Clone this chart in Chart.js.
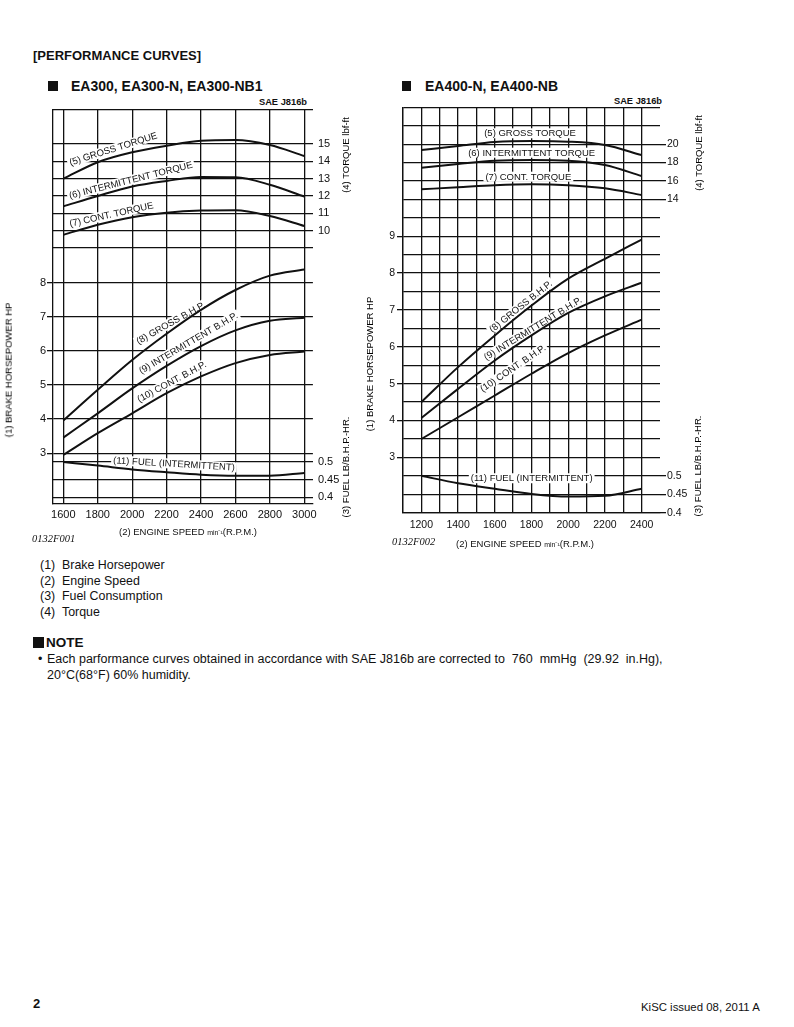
<!DOCTYPE html>
<html>
<head>
<meta charset="utf-8">
<script src="https://cdn.jsdelivr.net/npm/chart.js@4.4.1/dist/chart.umd.min.js"></script>
<style>
body { margin: 0; background: #fff; }
#page { position: relative; width: 794px; height: 1027px; overflow: hidden; font-family: "Liberation Sans", Arial, sans-serif; color: #111; }
.t { position: absolute; white-space: nowrap; line-height: 1; }
.ct { position: absolute; white-space: nowrap; line-height: 1; transform: translate(-50%, -50%); }
.vt { position: absolute; white-space: nowrap; line-height: 1; writing-mode: vertical-rl; transform: translate(-50%, -50%) rotate(180deg); color: #000; }
.sq { position: absolute; background: #111; }
.b { font-weight: bold; }
.code { font-family: "Liberation Serif", "Times New Roman", serif; font-style: italic; font-size: 10.5px; }
canvas { position: absolute; }
</style>
</head>
<body>
<div id="page">
  <div class="t b" style="left:33px;top:49px;font-size:13px;">[PERFORMANCE CURVES]</div>

  <div class="sq" style="left:48px;top:81px;width:10px;height:10px;"></div>
  <div class="t b" style="left:71px;top:79px;font-size:14px;">EA300, EA300-N, EA300-NB1</div>
  <div class="t b" style="right:487px;top:98px;font-size:9.3px;">SAE J816b</div>

  <div class="sq" style="left:402px;top:81px;width:9px;height:10px;"></div>
  <div class="t b" style="left:425px;top:79px;font-size:14px;">EA400-N, EA400-NB</div>
  <div class="t b" style="right:132px;top:97px;font-size:9.3px;">SAE J816b</div>

  <canvas id="chartA" width="365" height="455" style="left:0;top:95px;"></canvas>
  <canvas id="chartB" width="380" height="470" style="left:365px;top:95px;"></canvas>

  <div class="vt" style="left:8.5px;top:370px;font-size:9.5px;">(1) BRAKE HORSEPOWER HP</div>
  <div class="vt" style="left:346px;top:155px;font-size:9.5px;">(4) TORQUE lbf-ft</div>
  <div class="vt" style="left:346px;top:467px;font-size:9.5px;">(3) FUEL LB/B.H.P.-HR.</div>
  <div class="ct" style="left:188px;top:532px;font-size:9.5px;">(2) ENGINE SPEED <span style="font-size:7px;">min⁻¹</span>(R.P.M.)</div>
  <div class="t code" style="left:32px;top:534px;">0132F001</div>

  <div class="vt" style="left:370px;top:364px;font-size:9.5px;">(1) BRAKE HORSEPOWER HP</div>
  <div class="vt" style="left:699px;top:153px;font-size:9.5px;">(4) TORQUE lbf-ft</div>
  <div class="vt" style="left:698px;top:466px;font-size:9.5px;">(3) FUEL LB/B.H.P.-HR.</div>
  <div class="ct" style="left:525px;top:544px;font-size:9.5px;">(2) ENGINE SPEED <span style="font-size:7px;">min⁻¹</span>(R.P.M.)</div>
  <div class="t code" style="left:392px;top:537px;">0132F002</div>

  <div class="t" style="left:40px;top:559px;font-size:12.4px;">(1)</div>
  <div class="t" style="left:62px;top:559px;font-size:12.4px;">Brake Horsepower</div>
  <div class="t" style="left:40px;top:575px;font-size:12.4px;">(2)</div>
  <div class="t" style="left:62px;top:575px;font-size:12.4px;">Engine Speed</div>
  <div class="t" style="left:40px;top:590px;font-size:12.4px;">(3)</div>
  <div class="t" style="left:62px;top:590px;font-size:12.4px;">Fuel Consumption</div>
  <div class="t" style="left:40px;top:606px;font-size:12.4px;">(4)</div>
  <div class="t" style="left:62px;top:606px;font-size:12.4px;">Torque</div>

  <div class="sq" style="left:33px;top:637px;width:11px;height:11px;"></div>
  <div class="t b" style="left:46px;top:636px;font-size:13.5px;">NOTE</div>
  <div class="t" style="left:38px;top:653px;font-size:12.5px;">•</div>
  <div class="t" style="left:47px;top:653px;font-size:12.5px;">Each parformance curves obtained in accordance with SAE J816b are corrected to&nbsp; 760&nbsp; mmHg&nbsp; (29.92&nbsp; in.Hg),</div>
  <div class="t" style="left:47px;top:669px;font-size:12.5px;">20°C(68°F) 60% humidity.</div>

  <div class="t b" style="left:33px;top:997px;font-size:13px;">2</div>
  <div class="t" style="left:641px;top:1002px;font-size:11.4px;">KiSC issued 08, 2011 A</div>
</div>

<script>
// EA300, EA300-N, EA300-NB1
const rpmA = [1600, 1800, 2000, 2200, 2400, 2600, 2800, 3000];
const grossTorqueA = [13.0, 13.95, 14.52, 14.9, 15.19, 15.23, 14.94, 14.31];
const intTorqueA = [11.4, 12.0, 12.55, 12.87, 13.1, 13.08, 12.65, 11.97];
const contTorqueA = [9.76, 10.34, 10.78, 11.04, 11.16, 11.18, 10.85, 10.27];
const grossHpA = [3.96, 4.86, 5.73, 6.5, 7.2, 7.78, 8.2, 8.38];
const intHpA = [3.46, 4.17, 4.9, 5.56, 6.14, 6.6, 6.88, 6.97];
const contHpA = [2.95, 3.59, 4.17, 4.76, 5.25, 5.64, 5.88, 5.98];
const fuelA = [0.5, 0.49, 0.479, 0.471, 0.464, 0.461, 0.461, 0.469];

const rpmTicksA = [1600, 1800, 2000, 2200, 2400, 2600, 2800, 3000];
const hpTicksA = [3, 4, 5, 6, 7, 8];
const torqueTicksA = [10, 11, 12, 13, 14, 15];
const fuelTicksA = [0.4, 0.45, 0.5];

// EA400-N, EA400-NB
const rpmB = [1200, 1400, 1600, 1800, 2000, 2200, 2400];
const grossTorqueB = [19.37, 19.8, 20.23, 20.34, 20.27, 19.91, 18.82];
const intTorqueB = [17.45, 17.85, 18.2, 18.28, 18.2, 17.74, 16.54];
const contTorqueB = [15.1, 15.32, 15.54, 15.64, 15.54, 15.21, 14.48];
const grossHpB = [4.5, 5.45, 6.31, 7.12, 7.85, 8.39, 8.91];
const intHpB = [4.07, 4.86, 5.63, 6.31, 6.92, 7.37, 7.74];
const contHpB = [3.5, 4.09, 4.68, 5.27, 5.83, 6.31, 6.74];
const fuelB = [0.5, 0.48, 0.465, 0.451, 0.444, 0.446, 0.465];

const rpmTicksB = [1200, 1400, 1600, 1800, 2000, 2200, 2400];
const hpTicksB = [3, 4, 5, 6, 7, 8, 9];
const torqueTicksB = [14, 16, 18, 20];
const fuelTicksB = [0.4, 0.45, 0.5];

const INK = '#111';
const CLEAR = 'rgba(0,0,0,0)';
const GRID_W = 1.3;
const FAMILY = '"Liberation Sans", Arial, sans-serif';

// step helper for grid lines (not data)
function steps(from, to, step) {
  const out = [];
  for (let v = from; v <= to + 1e-9; v += step) out.push(Math.round(v * 1000) / 1000);
  return out;
}

// labels written along the curves, anchored in data units
function curveLabels(items) {
  return {
    id: 'curveLabels',
    beforeDatasetsDraw(chart) {
      const c = chart.ctx;
      c.save();
      c.font = '9.5px ' + FAMILY;
      c.textAlign = 'center';
      c.textBaseline = 'middle';
      items.forEach(l => {
        const px = chart.scales.x.getPixelForValue(l.x);
        const py = chart.scales[l.axis].getPixelForValue(l.y);
        c.save();
        c.translate(px, py);
        c.rotate(l.angle * Math.PI / 180);
        const w = c.measureText(l.text).width;
        c.fillStyle = '#fff';
        c.fillRect(-w / 2 - 2, -5, w + 4, 10);
        c.fillStyle = INK;
        c.fillText(l.text, 0, 0.5);
        c.restore();
      });
      c.restore();
    }
  };
}

function line(rpm, values, axis) {
  return {
    data: rpm.map((r, i) => ({ x: r, y: values[i] })),
    yAxisID: axis,
    borderColor: INK,
    borderWidth: 2,
    pointRadius: 0,
    fill: false,
    cubicInterpolationMode: 'monotone'
  };
}

// torque and fuel share one printed column on the right: their ticks are
// placed on an axis with the hp range, labelled with their own values
function rightAxis(p) {
  const hp = p.hp;
  const toHp = (v, a) => hp.min + (v - a.min) / (a.max - a.min) * (hp.max - hp.min);
  const marks = [];
  [p.t, p.f].forEach(a => {
    a.grid.forEach(v => marks.push({ value: toHp(v, a), lab: a.labels.includes(v) ? String(v) : '' }));
  });
  return {
    position: 'right',
    min: hp.min,
    max: hp.max,
    afterBuildTicks: s => { s.ticks = marks.map(m => ({ value: m.value, lab: m.lab })); },
    afterFit: s => { s.width = p.r.width; },
    border: { display: false },
    grid: {
      color: INK,
      lineWidth: GRID_W,
      drawOnChartArea: p.r.onArea,
      drawTicks: p.r.tickLength > 0,
      tickLength: p.r.tickLength,
      tickColor: ctx => (ctx.tick && ctx.tick.lab ? INK : CLEAR)
    },
    ticks: {
      autoSkip: false,
      padding: p.r.padding,
      color: INK,
      font: { family: FAMILY, size: p.r.font },
      callback: (v, i, ticks) => ticks[i].lab
    }
  };
}

function panel(id, p) {
  return new Chart(document.getElementById(id), {
    type: 'line',
    data: {
      datasets: [
        line(p.rpm, p.grossTorque, 't'),
        line(p.rpm, p.intTorque, 't'),
        line(p.rpm, p.contTorque, 't'),
        line(p.rpm, p.grossHp, 'hp'),
        line(p.rpm, p.intHp, 'hp'),
        line(p.rpm, p.contHp, 'hp'),
        line(p.rpm, p.fuel, 'f')
      ]
    },
    options: {
      responsive: false,
      animation: false,
      devicePixelRatio: 1,
      layout: { padding: p.padding },
      plugins: { legend: { display: false }, tooltip: { enabled: false } },
      scales: {
        x: {
          type: 'linear',
          min: p.xMin,
          max: p.xMax,
          afterBuildTicks: s => { s.ticks = p.xGrid.map(v => ({ value: v })); },
          afterFit: s => { s.height = p.xHeight; },
          border: { display: true, color: INK, width: GRID_W },
          grid: { color: INK, lineWidth: GRID_W, drawTicks: false },
          ticks: {
            autoSkip: false, maxRotation: 0, padding: p.xPad, color: INK,
            font: { family: FAMILY, size: p.xFont },
            callback: v => (p.xLabels.includes(v) ? String(v) : '')
          }
        },
        hp: {
          position: 'left',
          min: p.hp.min,
          max: p.hp.max,
          afterBuildTicks: s => { s.ticks = p.hp.grid.map(v => ({ value: v })); },
          afterFit: s => { s.width = p.hp.width; },
          border: { display: true, color: INK, width: GRID_W },
          grid: {
            color: INK,
            lineWidth: GRID_W,
            tickLength: 6,
            tickColor: ctx => (ctx.tick && p.hp.labels.includes(ctx.tick.value) ? INK : CLEAR)
          },
          ticks: {
            autoSkip: false, padding: p.hp.padding, color: INK,
            font: { family: FAMILY, size: p.hp.font },
            callback: v => (p.hp.labels.includes(v) ? String(v) : '')
          }
        },
        t: { display: false, min: p.t.min, max: p.t.max },
        f: { display: false, min: p.f.min, max: p.f.max },
        r: rightAxis(p)
      }
    },
    plugins: [curveLabels(p.labels)]
  });
}

panel('chartA', {
  rpm: rpmA,
  grossTorque: grossTorqueA, intTorque: intTorqueA, contTorque: contTorqueA,
  grossHp: grossHpA, intHp: intHpA, contHp: contHpA, fuel: fuelA,
  padding: { top: 14.3, right: 22.1, left: 0, bottom: 0 },
  xMin: 1540, xMax: 3050, xGrid: rpmTicksA, xLabels: rpmTicksA, xHeight: 46, xPad: 4, xFont: 11,
  hp: { min: 1.516, max: 13.07, grid: hpTicksA, labels: hpTicksA, width: 53, padding: 1, font: 11 },
  t: { min: -5.76, max: 17, grid: [9].concat(torqueTicksA, [17]), labels: torqueTicksA },
  f: { min: 0.381, max: 1.499, grid: fuelTicksA, labels: fuelTicksA },
  r: { width: 30, onArea: true, tickLength: 0, padding: 5, font: 11 },
  labels: [
    { text: '(5) GROSS TORQUE', x: 1890, y: 14.72, axis: 't', angle: -17.5 },
    { text: '(6) INTERMITTENT TORQUE', x: 1992, y: 12.92, axis: 't', angle: -14.2 },
    { text: '(7) CONT. TORQUE', x: 1879, y: 10.94, axis: 't', angle: -12.6 },
    { text: '(8) GROSS B.H.P.', x: 2224, y: 6.82, axis: 'hp', angle: -29.3 },
    { text: '(9) INTERMITTENT B.H.P.', x: 2326, y: 6.23, axis: 'hp', angle: -30.3 },
    { text: '(10) CONT. B.H.P.', x: 2230, y: 5.1, axis: 'hp', angle: -28.2 },
    { text: '(11) FUEL (INTERMITTENT)', x: 2243, y: 0.495, axis: 'f', angle: 3.4 }
  ]
});

panel('chartB', {
  rpm: rpmB,
  grossTorque: grossTorqueB, intTorque: intTorqueB, contTorque: contTorqueB,
  grossHp: grossHpB, intHp: intHpB, contHp: contHpB, fuel: fuelB,
  padding: { top: 12.3, right: 55, left: 0, bottom: 0 },
  xMin: 1100, xMax: 2500, xGrid: steps(1100, 2400, 100), xLabels: rpmTicksB, xHeight: 52.3, xPad: 6, xFont: 10.5,
  hp: { min: 1.5, max: 12.5, grid: steps(1.5, 12.5, 0.5), labels: hpTicksB, width: 38, padding: 2, font: 10.5 },
  t: { min: -20, max: 24, grid: torqueTicksB, labels: torqueTicksB },
  f: { min: 0.4, max: 1.5, grid: fuelTicksB, labels: fuelTicksB },
  r: { width: 30, onArea: false, tickLength: 6, padding: 1, font: 10.5 },
  labels: [
    { text: '(5) GROSS TORQUE', x: 1792, y: 21.18, axis: 't', angle: 0 },
    { text: '(6) INTERMITTENT TORQUE', x: 1801, y: 19.07, axis: 't', angle: 0 },
    { text: '(7) CONT. TORQUE', x: 1783, y: 16.47, axis: 't', angle: 0 },
    { text: '(8) GROSS B.H.P.', x: 1741, y: 7.1, axis: 'hp', angle: -38.5 },
    { text: '(9) INTERMITTENT B.H.P.', x: 1807, y: 6.5, axis: 'hp', angle: -31.4 },
    { text: '(10) CONT. B.H.P.', x: 1698, y: 5.42, axis: 'hp', angle: -34 },
    { text: '(11) FUEL (INTERMITTENT)', x: 1801, y: 0.4935, axis: 'f', angle: 0 }
  ]
});
</script>
</body>
</html>
